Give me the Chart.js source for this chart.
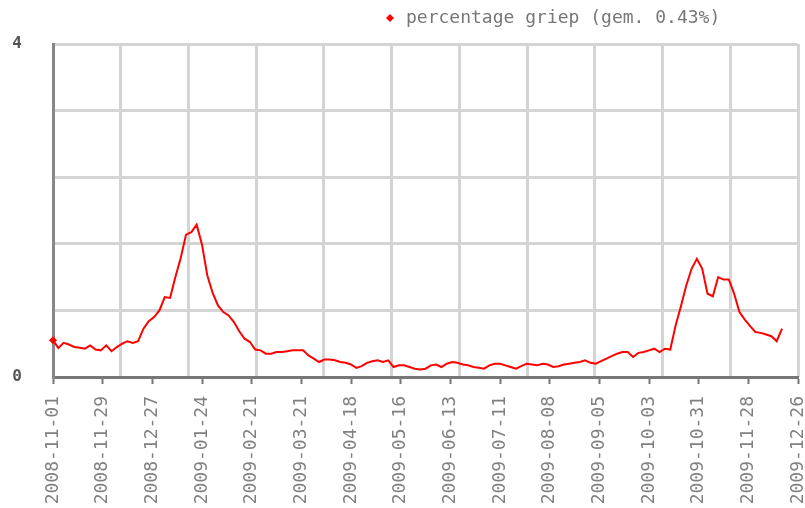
<!DOCTYPE html>
<html lang="nl">
<head>
<meta charset="UTF-8">
<title>percentage griep</title>
<script src="https://cdn.jsdelivr.net/npm/chart.js"></script>
<style>
  html, body { margin: 0; padding: 0; background: #fff; }
  #wrap { width: 805px; height: 508px; }
</style>
</head>
<body>
<div id="wrap"><canvas id="griepChart" width="805" height="508"></canvas></div>
<script>
// daily series, one reading every 3 days starting 2008-11-01
const startDate = '2008-11-01';
const stepDays = 3;
const griep = [
  0.44, 0.35, 0.41, 0.39, 0.36, 0.35, 0.34, 0.38, 0.33, 0.32,
  0.38, 0.31, 0.36, 0.40, 0.43, 0.41, 0.43, 0.58, 0.67, 0.72,
  0.80, 0.96, 0.95, 1.20, 1.43, 1.71, 1.74, 1.83, 1.59, 1.22,
  1.01, 0.86, 0.78, 0.74, 0.66, 0.55, 0.46, 0.42, 0.33, 0.32,
  0.28, 0.28, 0.30, 0.30, 0.31, 0.32, 0.32, 0.32, 0.26, 0.22,
  0.18, 0.21, 0.21, 0.20, 0.18, 0.17, 0.15, 0.11, 0.13, 0.17,
  0.19, 0.20, 0.18, 0.20, 0.12, 0.14, 0.14, 0.12, 0.10, 0.09,
  0.10, 0.14, 0.15, 0.12, 0.16, 0.18, 0.17, 0.15, 0.14, 0.12,
  0.11, 0.10, 0.14, 0.16, 0.16, 0.14, 0.12, 0.10, 0.13, 0.16,
  0.15, 0.14, 0.16, 0.15, 0.12, 0.13, 0.15, 0.16, 0.17, 0.18,
  0.20, 0.17, 0.16, 0.19, 0.22, 0.25, 0.28, 0.30, 0.30, 0.24,
  0.29, 0.30, 0.32, 0.34, 0.30, 0.34, 0.33, 0.62, 0.85, 1.10,
  1.30, 1.42, 1.30, 1.00, 0.97, 1.20, 1.17, 1.17, 1.00, 0.78,
  0.69, 0.61, 0.54, 0.53, 0.51, 0.49, 0.43, 0.58
];
const seriesLabel = 'percentage griep (gem. 0.43%)';
const xMaxDays = 420;      // 2008-11-01 .. 2009-12-26
const xTickStep = 28;      // date labels every 4 weeks
const yLabelled = [0, 4];

const startMs = Date.parse(startDate + 'T00:00:00Z');
function dayToDate(d) {
  return new Date(startMs + d * 86400000).toISOString().slice(0, 10);
}

const points = griep.map((v, i) => ({ x: i * stepDays, y: v }));

const monoFont = 'DejaVu Sans Mono';

const legendLine = {
  id: 'legendLine',
  afterDraw(chart) {
    const ctx = chart.ctx;
    const ds = chart.data.datasets[0];
    ctx.save();
    ctx.fillStyle = ds.borderColor;
    ctx.beginPath();
    ctx.moveTo(390, 14);
    ctx.lineTo(394, 18);
    ctx.lineTo(390, 22);
    ctx.lineTo(386, 18);
    ctx.closePath();
    ctx.fill();
    ctx.fillStyle = '#777';
    ctx.font = '18px "' + monoFont + '"';
    ctx.textBaseline = 'middle';
    ctx.fillText(ds.label, 406, 18);
    ctx.restore();
  }
};

new Chart(document.getElementById('griepChart'), {
  type: 'line',
  data: {
    datasets: [{
      label: seriesLabel,
      data: points,
      borderColor: '#ff0000',
      backgroundColor: '#ff0000',
      borderWidth: 2,
      tension: 0,
      fill: false,
      clip: 8,
      pointStyle: 'rectRot',
      pointRadius: c => c.dataIndex === 0 ? 4 : 0,
      pointBorderWidth: 0
    }]
  },
  options: {
    responsive: false,
    animation: false,
    layout: { padding: { top: 44, right: 7, left: 0, bottom: 0 } },
    plugins: {
      legend: { display: false },
      tooltip: { enabled: false }
    },
    scales: {
      x: {
        type: 'linear',
        position: 'bottom',
        min: 0,
        max: xMaxDays,
        afterFit: s => { s.height = 131; s.paddingLeft = 0; s.paddingRight = 0; },
        ticks: {
          stepSize: xTickStep,
          maxTicksLimit: 30,
          autoSkip: false,
          minRotation: 90,
          maxRotation: 90,
          padding: 12,
          color: '#808080',
          font: { family: monoFont, size: 18 },
          callback: v => dayToDate(v)
        },
        grid: { drawOnChartArea: false, drawTicks: true, tickLength: 7, tickColor: '#777', tickWidth: 2 },
        border: { color: '#777', width: 3 }
      },
      xg: {
        type: 'linear',
        position: 'top',
        min: 0,
        max: xMaxDays,
        afterFit: s => { s.paddingLeft = 0; s.paddingRight = 0; },
        ticks: { display: false, count: 12 },
        grid: { color: '#d4d4d4', lineWidth: 3, drawTicks: false },
        border: { display: false }
      },
      y: {
        min: 0,
        max: 4,
        afterFit: s => { s.width = 53; },
        ticks: {
          count: 6,
          padding: 31,
          color: '#555',
          font: { family: monoFont, size: 16, weight: 'bold' },
          callback: v => yLabelled.some(t => Math.abs(t - v) < 1e-6) ? Math.round(v) : ''
        },
        grid: { color: '#d4d4d4', lineWidth: 3, drawTicks: false },
        border: { color: '#888', width: 3 }
      }
    }
  },
  plugins: [legendLine]
});
</script>
</body>
</html>
